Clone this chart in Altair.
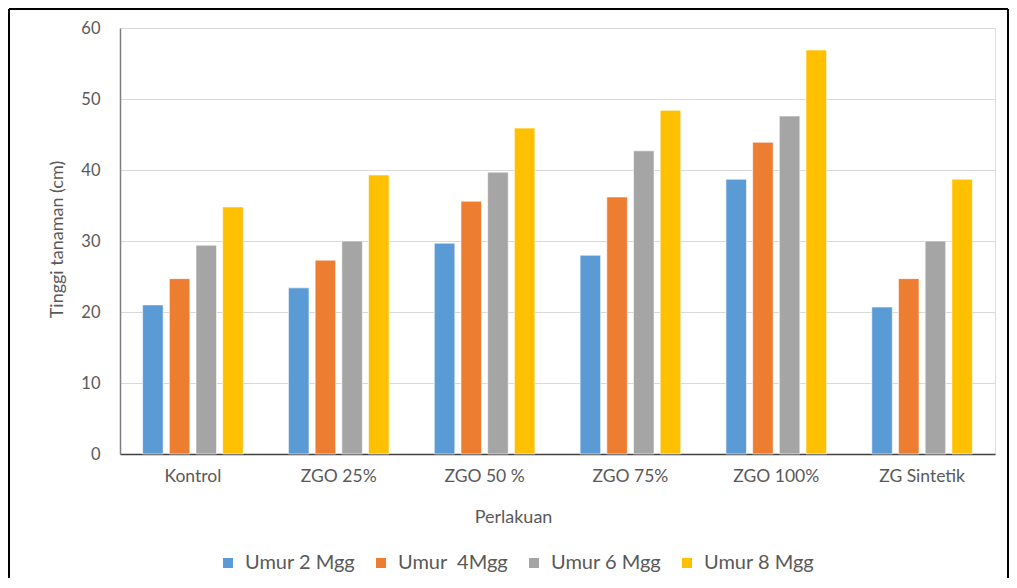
import altair as alt
import pandas as pd

categories = ["Kontrol", "ZGO 25%", "ZGO 50 %", "ZGO 75%", "ZGO 100%", "ZG Sintetik"]
series = ["Umur 2 Mgg", "Umur \u00a04Mgg", "Umur 6 Mgg", "Umur 8 Mgg"]
umur2 = [21.0, 23.4, 29.7, 28.0, 38.7, 20.7]
umur4 = [24.7, 27.3, 35.6, 36.2, 43.9, 24.7]
umur6 = [29.4, 30.0, 39.7, 42.7, 47.6, 30.0]
umur8 = [34.8, 39.3, 45.9, 48.4, 56.9, 38.7]
colors = ["#5B9BD5", "#ED7D31", "#A5A5A5", "#FFC000"]
y_ticks = [0, 10, 20, 30, 40, 50, 60]

rows = []
for s, vals in zip(series, [umur2, umur4, umur6, umur8]):
    for c, v in zip(categories, vals):
        rows.append({"Perlakuan": c, "Seri": s, "Nilai": v})
df = pd.DataFrame(rows)

FONT = "Lato"
TXT = "#595959"

bars = alt.Chart(df).mark_bar(stroke="white", strokeWidth=0.6).encode(
    x=alt.X("Perlakuan:N", sort=categories,
            scale=alt.Scale(paddingInner=0.31, paddingOuter=0.155),
            axis=alt.Axis(title="Perlakuan", labelAngle=0, ticks=False,
                          labelPadding=13, labelFontSize=17.5, labelColor=TXT,
                          labelFont=FONT, titleFont=FONT, titleFontSize=18,
                          titleFontWeight="normal", titleColor=TXT,
                          titleX=393, titleY=63, titleAlign="center",
                          titleBaseline="middle",
                          domainColor="#404040", domainWidth=1.5, grid=False)),
    xOffset=alt.XOffset("Seri:N", sort=series,
                        scale=alt.Scale(paddingInner=0.23, paddingOuter=0)),
    y=alt.Y("Nilai:Q", scale=alt.Scale(domain=[0, 60], nice=False),
            axis=alt.Axis(title="Tinggi tanaman (cm)", values=y_ticks, ticks=False,
                          labelPadding=20, labelFontSize=16.5, labelColor=TXT,
                          labelFont=FONT, titleFont=FONT, titleFontSize=18,
                          titleFontWeight="normal", titleColor=TXT,
                          titleX=-63, titleY=211, titleBaseline="middle",
                          domainColor="#7f7f7f", domainWidth=1.5,
                          gridColor="#D9D9D9", gridWidth=1.2)),
    color=alt.Color("Seri:N", sort=series,
                    scale=alt.Scale(domain=series, range=colors),
                    legend=alt.Legend(title=None, orient="none", direction="horizontal",
                                      legendX=98, legendY=525, symbolType="square",
                                      symbolSize=100, symbolStrokeWidth=0,
                                      labelFont=FONT, labelFontSize=20,
                                      labelColor=TXT, columnPadding=15,
                                      labelOffset=7, padding=0)),
)

one = alt.Data(values=[{"a": 1}])
left = alt.Chart(one).mark_rule(color="black", strokeWidth=2).encode(
    x=alt.value(-111), y=alt.value(-19), y2=alt.value(550))
top = alt.Chart(one).mark_rule(color="black", strokeWidth=2).encode(
    x=alt.value(-111), x2=alt.value(888), y=alt.value(-19))
right = alt.Chart(one).mark_rule(color="black", strokeWidth=2).encode(
    x=alt.value(888), y=alt.value(-19), y2=alt.value(550))

chart = alt.layer(bars, left, top, right).properties(
    width=875, height=426, padding=0
).configure_view(stroke=None).configure(background="white")

chart.save("out.html", embed_options={"renderer": "svg", "actions": False})
